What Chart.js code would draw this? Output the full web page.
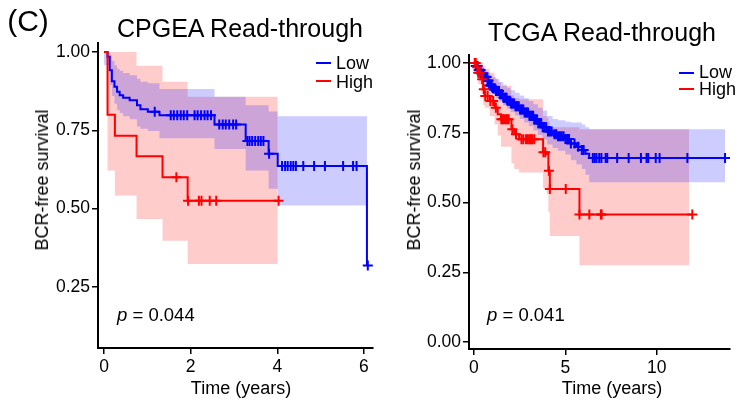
<!DOCTYPE html>
<html>
<head>
<meta charset="utf-8">
<script src="https://cdn.jsdelivr.net/npm/chart.js@4.4.1/dist/chart.umd.min.js"></script>
<style>
  html, body { margin: 0; padding: 0; background: #fff; }
  #wrap { position: relative; width: 737px; height: 401px; overflow: hidden;
          font-family: 'Liberation Sans', Arial, sans-serif; color: #000; }
  canvas { position: absolute; top: 0; }
  .txt { position: absolute; white-space: nowrap; line-height: 1; }
  .c { transform: translate(-50%, -50%); }
  .v { transform: translate(-50%, -50%) rotate(-90deg); }
  .l { transform: translateY(-50%); }
  .key { position: absolute; height: 2px; width: 15px; transform: translateY(-50%); }
</style>
</head>
<body>
<div id="wrap">
  <canvas id="cpgeaChart" width="380" height="401" style="left:0"></canvas>
  <canvas id="tcgaChart" width="357" height="401" style="left:380px"></canvas>

  <div class="txt c" style="left:28px; top:21px; font-size:30px;">(C)</div>
  <div class="txt c" style="left:240px; top:28px; font-size:25px;">CPGEA Read-through</div>
  <div class="txt c" style="left:602px; top:32px; font-size:25px;">TCGA Read-through</div>

  <div class="txt v" style="left:42px; top:180px; font-size:18px;">BCR-free survival</div>
  <div class="txt v" style="left:414px; top:180px; font-size:18px;">BCR-free survival</div>
  <div class="txt c" style="left:241px; top:388px; font-size:18px;">Time (years)</div>
  <div class="txt c" style="left:612px; top:388px; font-size:18px;">Time (years)</div>

  <div class="txt l" style="left:117px; top:315px; font-size:18.5px;"><i>p</i> = 0.044</div>
  <div class="txt l" style="left:487px; top:315px; font-size:18.5px;"><i>p</i> = 0.041</div>

  <div class="key" style="left:316px; top:63px; background:#0000FF;"></div>
  <div class="txt l" style="left:336px; top:63px; font-size:18px;">Low</div>
  <div class="key" style="left:316px; top:81px; background:#FF0000;"></div>
  <div class="txt l" style="left:336px; top:82px; font-size:18px;">High</div>

  <div class="key" style="left:679px; top:73px; background:#0000FF;"></div>
  <div class="txt l" style="left:699px; top:72px; font-size:18px;">Low</div>
  <div class="key" style="left:679px; top:89px; background:#FF0000;"></div>
  <div class="txt l" style="left:699px; top:89px; font-size:18px;">High</div>
</div>

<script>
// ─── CPGEA data ──────────────────────────────────────────────────────────────
const cpgeaLowTime  = [0, 0.08, 0.13, 0.18, 0.24, 0.30, 0.36, 0.44, 0.59, 0.76, 0.84, 1.01, 1.28, 2.55, 3.27, 3.80, 4.01, 6.07];
const cpgeaLowSurv  = [1.0, 0.985, 0.942, 0.907, 0.889, 0.873, 0.862, 0.854, 0.846, 0.830, 0.817, 0.809, 0.798, 0.769, 0.716, 0.675, 0.636, 0.318];
const cpgeaLowUpper = [1.0, 1.0, 0.99, 0.972, 0.958, 0.947, 0.94, 0.933, 0.926, 0.915, 0.905, 0.9, 0.882, 0.857, 0.83, 0.81, 0.795, 0.795];
const cpgeaLowLower = [0.958, 0.958, 0.895, 0.86, 0.835, 0.815, 0.805, 0.795, 0.785, 0.762, 0.755, 0.748, 0.725, 0.69, 0.622, 0.563, 0.51, 0.51];
const cpgeaLowCensor = [1.17, 1.54, 1.61, 1.69, 1.77, 1.84, 1.92, 2.09, 2.16, 2.24, 2.32, 2.39, 2.47, 2.66, 2.74, 2.81, 2.89,
                        2.98, 3.05, 3.31, 3.36, 3.42, 3.49, 3.56, 3.62, 3.68, 3.81, 4.11, 4.18, 4.24, 4.31, 4.37, 4.43,
                        4.60, 4.85, 5.10, 5.52, 5.75, 5.83, 6.09];

const cpgeaHighTime  = [0, 0.08, 0.25, 0.75, 1.35, 1.93, 4.03];
const cpgeaHighSurv  = [1.0, 0.80, 0.733, 0.667, 0.60, 0.525, 0.525];
const cpgeaHighUpper = [1.0, 1.0, 1.0, 0.956, 0.905, 0.857, 0.857];
const cpgeaHighLower = [1.0, 0.622, 0.542, 0.467, 0.397, 0.323, 0.323];
const cpgeaHighBandTime = [0, 0.08, 0.25, 0.75, 1.35, 1.93, 4.01];
const cpgeaHighCensor = [1.67, 1.94, 2.19, 2.25, 2.44, 2.59, 4.03];

const cpgeaXTicks = [0, 2, 4, 6];
const cpgeaYTicks = [0.25, 0.5, 0.75, 1.0];

// ─── TCGA data ───────────────────────────────────────────────────────────────
const tcgaLowTime  = [0, 0.1, 0.25, 0.4, 0.55, 0.7, 0.85, 1.0, 1.2, 1.4, 1.6, 1.8, 2.0, 2.25, 2.5, 2.75, 3.0,
                      3.25, 3.5, 3.75, 4.0, 4.3, 4.6, 5.0, 5.3, 5.6, 5.9, 6.1, 6.3, 13.73];
const tcgaLowSurv  = [1.0, 0.99, 0.975, 0.962, 0.95, 0.938, 0.92, 0.91, 0.9, 0.888, 0.876, 0.865, 0.855, 0.845, 0.834, 0.823, 0.811,
                      0.798, 0.784, 0.77, 0.755, 0.745, 0.738, 0.728, 0.712, 0.7, 0.688, 0.675, 0.66, 0.66];
const tcgaLowUpper = [1.0, 1.0, 0.992, 0.984, 0.976, 0.968, 0.958, 0.95, 0.942, 0.932, 0.922, 0.912, 0.903, 0.894, 0.884, 0.874, 0.864,
                      0.852, 0.84, 0.83, 0.81, 0.8, 0.795, 0.79, 0.787, 0.787, 0.78, 0.77, 0.763, 0.763];
const tcgaLowLower = [1.0, 0.98, 0.96, 0.944, 0.93, 0.915, 0.9, 0.888, 0.875, 0.862, 0.848, 0.836, 0.824, 0.812, 0.8, 0.787, 0.774,
                      0.758, 0.742, 0.726, 0.708, 0.696, 0.686, 0.672, 0.652, 0.636, 0.62, 0.6, 0.573, 0.573];
const tcgaLowCensor = [0.05, 0.1, 0.15, 0.2, 0.26, 0.31, 0.36, 0.42, 0.47, 0.52, 0.58, 0.63, 0.69, 0.74, 0.8, 0.86, 0.91, 0.97,
                       1.03, 1.08, 1.14, 1.2, 1.26, 1.31, 1.37, 1.43, 1.49, 1.55, 1.61, 1.67, 1.72, 1.78, 1.84, 1.9, 1.96,
                       2.02, 2.08, 2.14, 2.2, 2.27, 2.33, 2.39, 2.45, 2.52, 2.58, 2.64, 2.7, 2.77, 2.83, 2.9, 2.96, 3.03,
                       3.1, 3.17, 3.24, 3.3, 3.37, 3.44, 3.52, 3.6, 3.68, 3.76, 3.85, 3.95, 4.05, 4.15, 4.25, 4.4, 4.5,
                       4.6, 4.7, 4.8, 4.9, 5.0, 5.1, 5.2, 5.3, 5.5, 5.7, 5.9, 6.0, 6.5, 6.6, 6.7, 6.85, 6.97, 7.2, 7.29,
                       7.83, 8.46, 9.13, 9.44, 9.53, 9.94, 10.15, 11.67, 13.73];

const tcgaHighTime  = [0, 0.12, 0.23, 0.41, 0.5, 0.59, 0.86, 1.13, 1.3, 1.48, 2.05, 2.2, 2.47, 3.78, 3.98, 4.07, 4.15, 5.77, 11.94];
const tcgaHighSurv  = [1.0, 0.985, 0.965, 0.942, 0.906, 0.882, 0.864, 0.84, 0.817, 0.799, 0.763, 0.745, 0.727, 0.68, 0.674, 0.614, 0.549, 0.457, 0.457];
const tcgaHighUpper = [1.0, 1.0, 1.0, 1.0, 0.99, 0.98, 0.965, 0.945, 0.93, 0.918, 0.885, 0.875, 0.87, 0.81, 0.805, 0.79, 0.77, 0.763, 0.763];
const tcgaHighLower = [1.0, 0.955, 0.925, 0.89, 0.85, 0.84, 0.81, 0.78, 0.74, 0.70, 0.64, 0.62, 0.608, 0.55, 0.53, 0.465, 0.38, 0.275, 0.275];
const tcgaHighBandTime = [0, 0.12, 0.23, 0.41, 0.5, 0.59, 0.86, 1.13, 1.3, 1.48, 2.05, 2.2, 2.47, 3.78, 3.98, 4.07, 4.15, 5.77, 11.76];
const tcgaHighCensor = [0.05, 0.1, 0.18, 0.23, 0.32, 0.45, 0.54, 0.62, 0.75, 0.9, 1.05, 1.2, 1.5, 1.58, 1.65, 1.75, 1.82, 1.9,
                        2.1, 2.3, 2.6, 2.7, 2.85, 2.95, 3.05, 3.12, 3.2, 3.3, 3.8, 3.9, 4.1, 4.15, 5.02, 5.77, 6.31, 6.94,
                        6.98, 11.94];

const tcgaXTicks = [0, 5, 10];
const tcgaYTicks = [0, 0.25, 0.5, 0.75, 1.0];

// ─── helpers ─────────────────────────────────────────────────────────────────
const BLUE = '#0000FF';
const RED = '#FF0000';
const BLUE_BAND = 'rgba(0, 0, 255, 0.2)';
const RED_BAND = 'rgba(255, 0, 0, 0.2)';
const FONT = "'Liberation Sans', Arial, sans-serif";

const pts = (times, vals) => times.map((t, i) => ({ x: t, y: vals[i] }));

// survival value of a step curve at time t (for placing censor marks)
function survAt(times, vals, t) {
    let v = vals[0];
    for (let i = 0; i < times.length; i++) if (times[i] <= t) v = vals[i];
    return v;
}

function bandSets(times, upper, lower, color, order) {
    return [
        { data: pts(times, upper), stepped: 'before', borderWidth: 0, pointRadius: 0, fill: false, order: order },
        { data: pts(times, lower), stepped: 'before', borderWidth: 0, pointRadius: 0, fill: '-1', backgroundColor: color, order: order }
    ];
}

function curveSet(times, surv, color, order) {
    return { data: pts(times, surv), stepped: 'before', borderColor: color, borderWidth: 2, pointRadius: 0, fill: false, order: order };
}

function censorSet(censor, times, surv, color, order) {
    return {
        data: censor.map(t => ({ x: t, y: survAt(times, surv, t) })),
        showLine: false, pointStyle: 'cross', pointRadius: 5,
        pointBorderColor: color, pointBorderWidth: 2, order: order
    };
}

function makePanel(id, p) {
    const axisText = { color: '#000', font: { family: FONT, size: 17.5 } };
    new Chart(document.getElementById(id), {
        type: 'line',
        data: {
            datasets: [
                ...bandSets(p.lowBandTime, p.lowUpper, p.lowLower, BLUE_BAND, 4),
                ...bandSets(p.highBandTime, p.highUpper, p.highLower, RED_BAND, 5),
                curveSet(p.lowTime, p.lowSurv, BLUE, 3),
                curveSet(p.highTime, p.highSurv, RED, 2),
                censorSet(p.lowCensor, p.lowTime, p.lowSurv, BLUE, 1),
                censorSet(p.highCensor, p.highTime, p.highSurv, RED, 0)
            ]
        },
        options: {
            responsive: false,
            animation: false,
            events: [],
            layout: { padding: { top: p.top, right: p.right, left: 0, bottom: 0 } },
            plugins: { legend: { display: false }, tooltip: { enabled: false } },
            scales: {
                x: {
                    type: 'linear', min: p.xMin, max: p.xMax,
                    afterBuildTicks: s => { s.ticks = p.xTicks.map(v => ({ value: v })); },
                    afterFit: s => { s.height = p.xHeight; },
                    grid: { drawOnChartArea: false, color: '#000', lineWidth: 1.5, tickLength: 6 },
                    border: { color: '#000', width: 2 },
                    ticks: { ...axisText, padding: 3, maxRotation: 0, callback: v => String(v) }
                },
                y: {
                    type: 'linear', min: p.yMin, max: p.yMax,
                    afterBuildTicks: s => { s.ticks = p.yTicks.map(v => ({ value: v })); },
                    afterFit: s => { s.width = p.yWidth; },
                    grid: { drawOnChartArea: false, color: '#000', lineWidth: 1.5, tickLength: 6 },
                    border: { color: '#000', width: 2 },
                    ticks: { ...axisText, padding: 2, callback: v => v.toFixed(2) }
                }
            }
        }
    });
}

makePanel('cpgeaChart', {
    lowTime: cpgeaLowTime, lowSurv: cpgeaLowSurv, lowBandTime: cpgeaLowTime,
    lowUpper: cpgeaLowUpper, lowLower: cpgeaLowLower, lowCensor: cpgeaLowCensor,
    highTime: cpgeaHighTime, highSurv: cpgeaHighSurv, highBandTime: cpgeaHighBandTime,
    highUpper: cpgeaHighUpper, highLower: cpgeaHighLower, highCensor: cpgeaHighCensor,
    xTicks: cpgeaXTicks, yTicks: cpgeaYTicks,
    xMin: -0.14, xMax: 6.21, yMin: 0.0545, yMax: 1.029,
    top: 43, right: 5, xHeight: 53, yWidth: 98
});

makePanel('tcgaChart', {
    lowTime: tcgaLowTime, lowSurv: tcgaLowSurv, lowBandTime: tcgaLowTime,
    lowUpper: tcgaLowUpper, lowLower: tcgaLowLower, lowCensor: tcgaLowCensor,
    highTime: tcgaHighTime, highSurv: tcgaHighSurv, highBandTime: tcgaHighBandTime,
    highUpper: tcgaHighUpper, highLower: tcgaHighLower, highCensor: tcgaHighCensor,
    xTicks: tcgaXTicks, yTicks: tcgaYTicks,
    xMin: -0.27, xMax: 14.0, yMin: -0.025, yMax: 1.029,
    top: 55, right: 2, xHeight: 52, yWidth: 89
});
</script>
</body>
</html>
